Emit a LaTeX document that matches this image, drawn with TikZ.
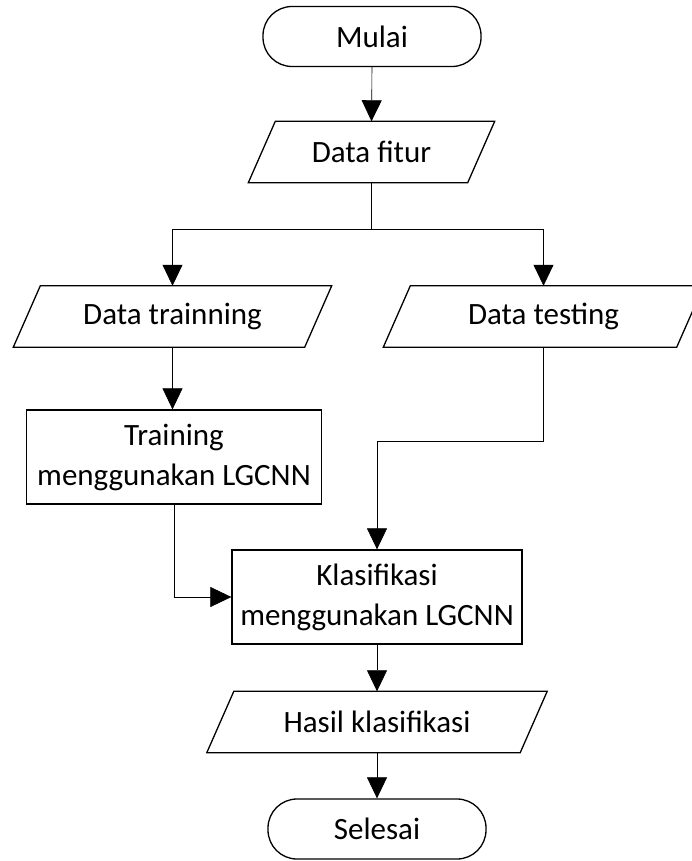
\documentclass[tikz,border=0pt]{standalone}
\usepackage{fontspec}
\setmainfont{Carlito}
\usetikzlibrary{arrows.meta}

\tikzset{
  terminal/.style={draw, line width=1.3pt, rectangle, rounded corners=29pt, minimum width=218pt, minimum height=60pt, inner sep=0pt},
  iobox/.style={rectangle, minimum height=61pt, inner sep=0pt},
  procbox/.style={draw, line width=1.3pt, rectangle, minimum height=94pt, inner sep=0pt, align=center},
  arr/.style={line width=0.6pt, -{Triangle[width=20pt,length=21pt]}},
  conn/.style={line width=0.6pt}
}

\begin{document}
\begin{tikzpicture}[x=1pt,y=1pt,yscale=-1,xscale=1,font=\fontsize{31}{40}\selectfont]
\useasboundingbox (0,0) rectangle (692,861);

%Shape: Terminal [id:mulai]
\node [terminal] (mulai) at (372,36.5) {Mulai};
%Shape: Parallelogram [id:fitur]
\node [iobox, minimum width=219pt] (fitur) at (371.5,152) {Data fitur};
%Shape: Parallelogram [id:trainning]
\node [iobox, minimum width=291pt] (trainning) at (172.5,316.5) {Data trainning};
%Shape: Parallelogram [id:testing]
\node [iobox, minimum width=293pt] (testing) at (543.5,316.5) {Data testing};
%Shape: Rectangle [id:trbox]
\node [procbox, minimum width=295pt] (trbox) at (174,457) {Training\\menggunakan LGCNN};
%Shape: Rectangle [id:klas]
\node [procbox, minimum width=290pt] (klas) at (377,597) {Klasifikasi\\menggunakan LGCNN};
%Shape: Parallelogram [id:hasil]
\node [iobox, minimum width=313pt] (hasil) at (377,722) {Hasil klasifikasi};
%Shape: Terminal [id:selesai]
\node [terminal] (selesai) at (377,829) {Selesai};

%Parallelogram outlines
\foreach \n in {fitur,trainning,testing,hasil}
  \draw [line width=1.3pt, line join=miter] ([xshift=13.5pt]\n.north west) -- ([xshift=13.5pt]\n.north east) -- ([xshift=-13.5pt]\n.south east) -- ([xshift=-13.5pt]\n.south west) -- cycle;

%Straight Lines [id:mulai-fitur]
\draw [arr] (mulai.south) -- (fitur.north);
%Straight Lines [id:fitur-split]
\draw [conn] (fitur.south) -- ++(0,47) coordinate (split);
\draw [arr] (split) -| (trainning.north);
\draw [arr] (split) -| (testing.north);
%Straight Lines [id:trainning-trbox]
\draw [arr] (trainning.south) -- (trainning.south |- trbox.north);
%Straight Lines [id:testing-klas]
\draw [arr] (testing.south) -- ++(0,94) -| (klas.north);
%Straight Lines [id:trbox-klas]
\draw [arr] (trbox.south) |- (klas.west);
%Straight Lines [id:klas-hasil]
\draw [arr] (klas.south) -- (hasil.north);
%Straight Lines [id:hasil-selesai]
\draw [arr] (hasil.south) -- (selesai.north);

\end{tikzpicture}
\end{document}
